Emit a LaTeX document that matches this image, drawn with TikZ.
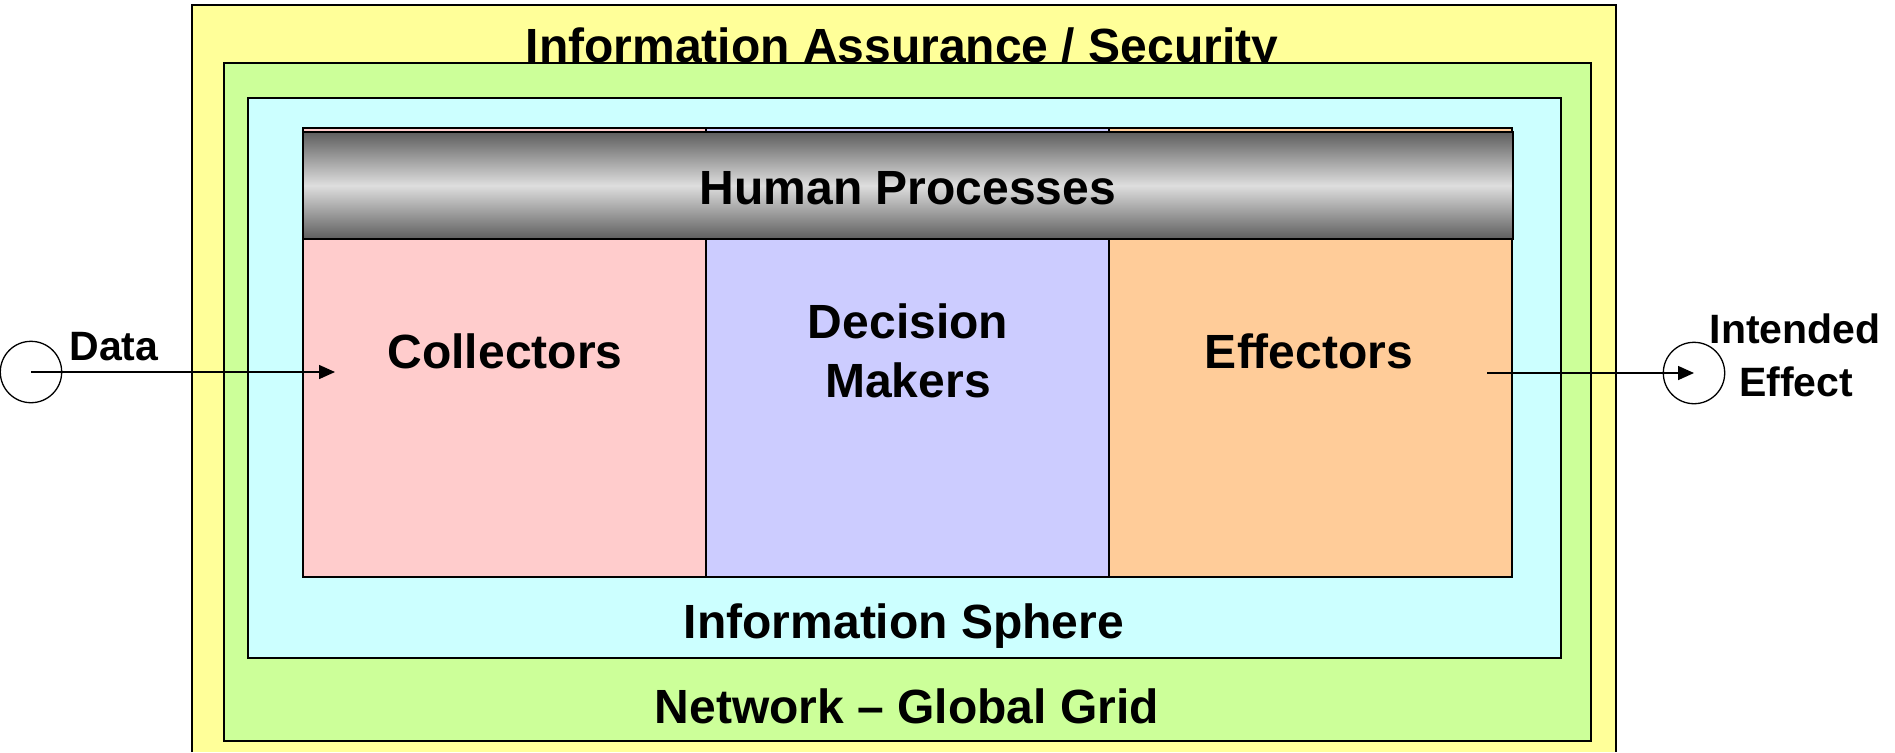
\documentclass[tikz,border=0pt]{standalone}
\usepackage{fontspec}
\setmainfont{Liberation Sans}
\usetikzlibrary{arrows.meta}
\definecolor{cyel}{HTML}{FFFF99}
\definecolor{cgreen}{HTML}{CCFF99}
\definecolor{ccyan}{HTML}{CCFFFF}
\definecolor{cpink}{HTML}{FFCCCC}
\definecolor{clav}{HTML}{CCCCFF}
\definecolor{corange}{HTML}{FFCC99}
\definecolor{cdark}{HTML}{5E5E5E}
\definecolor{clight}{HTML}{DEDEDE}
\begin{document}
\begin{tikzpicture}[x=0.5pt,y=-0.5pt,
  lbl/.style={font=\fontsize{24}{28}\selectfont\bfseries, inner sep=0pt, anchor=base},
  sidelbl/.style={font=\fontsize{20.5}{24}\selectfont\bfseries, inner sep=0pt, anchor=base},
  layer/.style={draw=black, line width=0.75pt},
  panel/.style={draw=black, line width=0.6pt},
  endcircle/.style={circle, draw=black, line width=0.65pt, minimum size=30.7pt, inner sep=0pt},
  flow/.style={line width=0.75pt, -{Triangle[length=8pt, width=7pt]}}]
\useasboundingbox (0,0) rectangle (1895,752);
% outer layer
\fill[cyel] (192,5) rectangle (1616,752);
\draw[layer] (192,752) -- (192,5) -- (1616,5) -- (1616,752);
\node[lbl] (title) at (902,62) {Information Assurance / Security};
% network layer
\draw[layer, fill=cgreen] (224,63) rectangle (1591,741);
% information sphere
\draw[layer, fill=ccyan] (248,98) rectangle (1561,658);
% panels
\draw[panel, fill=cpink] (303,128) rectangle (706,577);
\draw[panel, fill=clav] (706,128) rectangle (1109,577);
\draw[panel, fill=corange] (1109,128) rectangle (1512,577);
% human processes bar
\shade[top color=cdark, bottom color=cdark, middle color=clight] (303,132) rectangle (1513,239);
\draw[layer] (303,132) rectangle (1513,239);
% labels
\node[lbl] (human) at (908,204) {Human Processes};
\node[lbl] (coll) at (505,368) {Collectors};
\node[lbl] (dec1) at (908,338) {Decision};
\node[lbl] (dec2) at (908,397) {Makers};
\node[lbl] (effr) at (1309,368) {Effectors};
\node[lbl] (sphere) at (904,638) {Information Sphere};
\node[lbl] (net) at (907,723) {Network -- Global Grid};
\node[sidelbl, anchor=base west] (datal) at (69,360) {Data};
\node[sidelbl] (int1) at (1795,343) {Intended};
\node[sidelbl] (int2) at (1796,396) {Effect};
% end circles and flows
\node[endcircle] (data) at (31,372) {};
\node[endcircle] (effect) at (1694,373) {};
\coordinate (collin) at (335,372);
\coordinate (effout) at (1487,373);
\draw[flow] (data.center) -- (collin);
\draw[flow] (effout) -- (effect.center);
\end{tikzpicture}
\end{document}
